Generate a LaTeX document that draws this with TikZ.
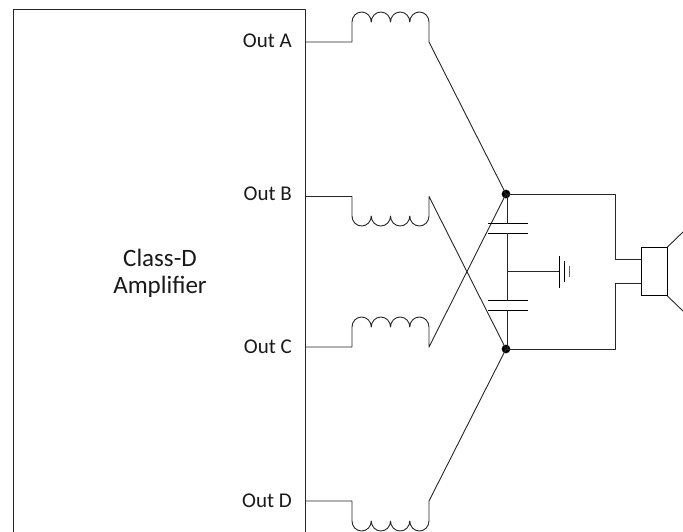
\documentclass[tikz,border=0pt]{standalone}
\usepackage{fontspec}
\setmainfont{Carlito}
\tikzset{
  wire/.style={draw=black!85,line width=0.9pt,line join=round},
  plate/.style={draw=black,line width=0.9pt},
  lbl/.style={font=\fontsize{21}{27}\selectfont,text=black!90,inner sep=0pt,align=center},
  biglbl/.style={font=\fontsize{25}{27}\selectfont,text=black!90,inner sep=0pt,align=center},
  dot/.style={circle,fill=black,draw=none,minimum size=8.7pt,inner sep=0pt}
}
% the y axis points down in this picture, so the arc angles are mirrored
\newcommand{\coilup}{%
  arc[start angle=180,end angle=360,x radius=9.625,y radius=10]
  arc[start angle=180,end angle=360,x radius=9.625,y radius=10]
  arc[start angle=180,end angle=360,x radius=9.625,y radius=10]
  arc[start angle=180,end angle=360,x radius=9.625,y radius=10]}
\newcommand{\coildown}{%
  arc[start angle=180,end angle=0,x radius=9.625,y radius=10]
  arc[start angle=180,end angle=0,x radius=9.625,y radius=10]
  arc[start angle=180,end angle=0,x radius=9.625,y radius=10]
  arc[start angle=180,end angle=0,x radius=9.625,y radius=10]}
\begin{document}
\begin{tikzpicture}[x=1pt,y=-1pt]
\useasboundingbox (0,0) rectangle (683,531);
\clip (0,0) rectangle (683,531);
\draw[wire] (13,540) -- (13,9.5) -- (305,9.5) -- (305,540);
\node[lbl,anchor=base east] (la) at (292,47) {Out A};
\node[lbl,anchor=base east] (lb) at (292,200.5) {Out B};
\node[lbl,anchor=base east] (lc) at (292,353.5) {Out C};
\node[lbl,anchor=base east] (ld) at (292,507) {Out D};
\node[biglbl] (amp) at (160,273.5) {Class-D\\Amplifier};
\node[dot] (jt) at (506,194) {};
\node[dot] (jb) at (506,349) {};
\coordinate (oa) at (305,42);
\coordinate (ob) at (305,196.5);
\coordinate (oc) at (305,347);
\coordinate (od) at (305,501);
% coils
\draw[wire] (oa) -- (352,42) -- (352,22) \coilup -- (429,42) -- (jt.center);
\draw[wire] (ob) -- (352,196.5) -- (352,216) \coildown -- (429,196.5) -- (jb.center);
\draw[wire] (oc) -- (352,347) -- (352,327) \coilup -- (429,347) -- (jt.center);
\draw[wire] (od) -- (352,501) -- (352,521) \coildown -- (429,501) -- (jb.center);
% capacitors
\coordinate (c1) at (507.5,223.5);
\coordinate (c2) at (507.5,233);
\coordinate (c3) at (507.5,300.5);
\coordinate (c4) at (507.5,310);
\draw[plate] (488,223.5) -- (528,223.5);
\draw[plate] (488,233) -- (528,233);
\draw[plate] (488,300.5) -- (528,300.5);
\draw[plate] (488,310) -- (528,310);
\draw[wire] (507.5,194) -- (c1);
\draw[wire] (c2) -- (c3);
\draw[wire] (c4) -- (507.5,349);
% ground
\coordinate (g) at (559.3,271.6);
\draw[wire] (507.5,271.6) -- (g);
\draw[plate] (559.3,256) -- (559.3,287.5);
\draw[plate] (564.3,261) -- (564.3,282);
\draw[plate,draw=black!60] (569.3,266) -- (569.3,277);
% speaker
\node[draw=black,line width=0.9pt,minimum width=25.5pt,minimum height=48pt,inner sep=0pt] (spk) at (654.2,271.5) {};
\draw[wire] (jt.center) -- (615.5,194) -- (615.5,259.5) -- (spk.west |- 0,259.5);
\draw[wire] (jb.center) -- (615.5,349) -- (615.5,283.5) -- (spk.west |- 0,283.5);
\draw[wire] (spk.north east) -- (684,231);
\draw[wire] (spk.south east) -- (684,312);
\end{tikzpicture}
\end{document}
